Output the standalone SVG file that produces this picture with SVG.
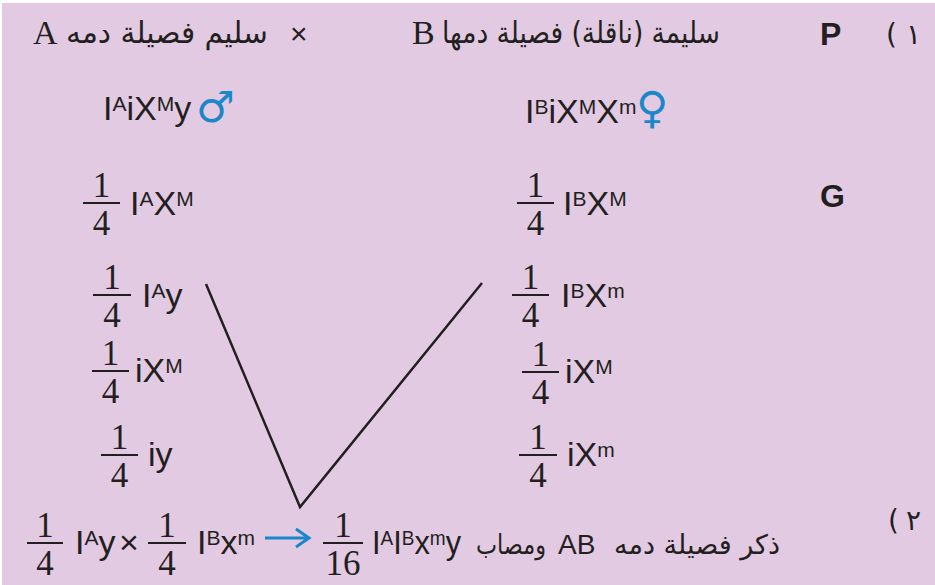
<svg xmlns="http://www.w3.org/2000/svg" width="935" height="585" viewBox="0 0 935 585">
<style>
.t{font-family:"Liberation Sans",Arial,sans-serif;font-size:34px;fill:#231f20}
.s{font-size:21px}
.f{font-family:"Liberation Serif","Times New Roman",serif;font-size:35px;fill:#231f20;text-anchor:middle}
.ar{font-family:"DejaVu Sans","Liberation Serif",serif;font-size:30px;fill:#231f20;text-anchor:middle}
.ar2{font-size:27px}
.num{font-family:"DejaVu Sans",sans-serif;font-size:28px;fill:#231f20}
.lat{font-family:"Liberation Serif","Times New Roman",serif;font-size:34px;fill:#231f20}
.b{font-family:"Liberation Sans",Arial,sans-serif;font-weight:bold;font-size:32px;fill:#231f20}
.fl{stroke:#231f20;stroke-width:2}
.sym{font-family:"DejaVu Sans",sans-serif;fill:#1a87c9}
.cn{stroke:#231f20;stroke-width:2.5;fill:none}
</style>
<defs>
<g id="fr4"><text class="f" x="0" y="-6">1</text><text class="f" x="0" y="32">4</text></g>
</defs>
<rect x="0" y="0" width="935" height="585" fill="#ffffff"/>
<rect x="2" y="3" width="933" height="582" fill="#e2cbe2"/>

<g id="row-p">
<text class="lat" x="33" y="44">A</text>
<text class="ar" x="167" y="43" direction="rtl" textLength="202" lengthAdjust="spacingAndGlyphs">سليم فصيلة دمه</text>
<text class="t" x="290" y="44" style="font-size:30px">×</text>
<text class="lat" x="412" y="44">B</text>
<text class="ar" x="581" y="43" direction="rtl" textLength="278" lengthAdjust="spacingAndGlyphs">سليمة (ناقلة) فصيلة دمها</text>
<text class="b" x="820" y="45">P</text>
<text class="num" x="886" y="44" direction="ltr" unicode-bidi="bidi-override">(<tspan x="906">١</tspan></text>
</g>

<g id="male">
<text class="t" x="103" y="120">I<tspan class="s" dy="-9">A</tspan><tspan dy="9">iX</tspan><tspan class="s" dy="-9">M</tspan><tspan dy="9">y</tspan></text>
<text class="sym" x="196" y="122" style="font-size:43px">♂</text>
</g>
<g id="female">
<text class="t" x="525" y="123">I<tspan class="s" dy="-9">B</tspan><tspan dy="9">iX</tspan><tspan class="s" dy="-9">M</tspan><tspan dy="9">X</tspan><tspan class="s" dy="-9">m</tspan></text>
<text class="sym" x="636" y="123" style="font-size:44px">♀</text>
</g>

<g id="label-g"><text class="b" x="820" y="207">G</text></g>

<g id="gm1"><line class="fl" x1="83" y1="203" x2="120" y2="203"/><use href="#fr4" x="101.5" y="203"/>
<text class="t" x="130" y="215">I<tspan class="s" dy="-9">A</tspan><tspan dy="9">X</tspan><tspan class="s" dy="-9">M</tspan></text></g>
<g id="gm2"><line class="fl" x1="93" y1="295" x2="131" y2="295"/><use href="#fr4" x="112" y="295"/>
<text class="t" x="142" y="307">I<tspan class="s" dy="-9">A</tspan><tspan dy="9">y</tspan></text></g>
<g id="gm3"><line class="fl" x1="92" y1="371" x2="129" y2="371"/><use href="#fr4" x="110.5" y="371"/>
<text class="t" x="135" y="382">iX<tspan class="s" dy="-9">M</tspan></text></g>
<g id="gm4"><line class="fl" x1="101" y1="455" x2="138" y2="455"/><use href="#fr4" x="119.5" y="455"/>
<text class="t" x="148" y="466">iy</text></g>

<g id="gf1"><line class="fl" x1="517" y1="203" x2="554" y2="203"/><use href="#fr4" x="535.5" y="203"/>
<text class="t" x="563" y="215">I<tspan class="s" dy="-9">B</tspan><tspan dy="9">X</tspan><tspan class="s" dy="-9">M</tspan></text></g>
<g id="gf2"><line class="fl" x1="512" y1="295" x2="549" y2="295"/><use href="#fr4" x="530.5" y="295"/>
<text class="t" x="561" y="307">I<tspan class="s" dy="-9">B</tspan><tspan dy="9">X</tspan><tspan class="s" dy="-9">m</tspan></text></g>
<g id="gf3"><line class="fl" x1="522" y1="372" x2="559" y2="372"/><use href="#fr4" x="540.5" y="372"/>
<text class="t" x="565" y="383">iX<tspan class="s" dy="-9">M</tspan></text></g>
<g id="gf4"><line class="fl" x1="519" y1="455" x2="557" y2="455"/><use href="#fr4" x="538" y="455"/>
<text class="t" x="567" y="466">iX<tspan class="s" dy="-9">m</tspan></text></g>

<g id="connectors">
<polyline class="cn" points="206,284 300,507 482,283"/>
</g>

<g id="row-2">
<line class="fl" x1="27" y1="543" x2="63" y2="543"/><use href="#fr4" x="45" y="543"/>
<text class="t" x="75" y="554">I<tspan class="s" dy="-9">A</tspan><tspan dy="9">y</tspan></text>
<text class="t" x="119" y="554">×</text>
<line class="fl" x1="148" y1="543" x2="186" y2="543"/><use href="#fr4" x="167" y="543"/>
<text class="t" x="197" y="554">I<tspan class="s" dy="-9">B</tspan><tspan dy="9">x</tspan><tspan class="s" dy="-9">m</tspan></text>
<line x1="265" y1="538" x2="308" y2="538" stroke="#1a87c9" stroke-width="3"/>
<polyline points="296,529 309,538 296,547" fill="none" stroke="#1a87c9" stroke-width="3"/>
<line class="fl" x1="323" y1="543" x2="363" y2="543"/>
<text class="f" x="343" y="537">1</text><text class="f" x="343" y="575">16</text>
<text class="t" x="372" y="554" textLength="89" lengthAdjust="spacingAndGlyphs">I<tspan class="s" dy="-9">A</tspan><tspan dy="9">I</tspan><tspan class="s" dy="-9">B</tspan><tspan dy="9">x</tspan><tspan class="s" dy="-9">m</tspan><tspan dy="9">y</tspan></text>
<text class="ar ar2" x="511" y="554" direction="rtl" textLength="70" lengthAdjust="spacingAndGlyphs">ومصاب</text>
<text class="t" x="558" y="554" style="font-size:28px">AB</text>
<text class="ar ar2" x="697" y="554" direction="rtl" textLength="166" lengthAdjust="spacingAndGlyphs">ذكر فصيلة دمه</text>
<text class="num" x="888" y="530" direction="ltr" unicode-bidi="bidi-override">(<tspan x="906">٢</tspan></text>
</g>
</svg>
